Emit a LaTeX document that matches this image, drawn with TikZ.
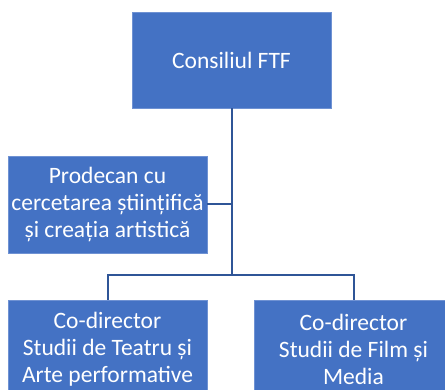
\documentclass[tikz,border=0pt]{standalone}
\usepackage{fontspec}
\setmainfont{Carlito}
\definecolor{boxfill}{HTML}{4472C4}
\definecolor{boxedge}{HTML}{6F92D3}
\definecolor{linecol}{HTML}{2F5597}
\begin{document}
\begin{tikzpicture}[x=1pt,y=-1pt,
  orgbox/.style={draw=boxedge,line width=0.6pt,fill=boxfill,text=white,align=center,
    inner sep=0pt,font=\fontsize{23.5}{27}\selectfont},
  conn/.style={draw=linecol,line width=2pt}]
\useasboundingbox (0,0) rectangle (445,390);
\clip (0,0) rectangle (445,390);
\node[orgbox,minimum width=199pt,minimum height=96pt] (top) at (231.5,60) {Consiliul FTF};
\node[orgbox,minimum width=199pt,minimum height=97pt] (mid) at (107.5,204.5) {Prodecan cu\\cercetarea științifică\\și creația artistică};
\node[orgbox,minimum width=199pt,minimum height=98pt,anchor=north] (bl) at (107.5,300) {Co-director\\Studii de Teatru și\\Arte performative};
\node[orgbox,minimum width=199pt,minimum height=98pt,anchor=north] (br) at (353.5,300) {Co-director\\Studii de Film și\\Media};
\coordinate (j) at (231.5,275);
\draw[conn] (top.south) -- (j);
\draw[conn] (mid.east) -- (mid.east -| top.south);
\draw[conn] (bl.north) |- (j) -| (br.north);
\end{tikzpicture}
\end{document}
